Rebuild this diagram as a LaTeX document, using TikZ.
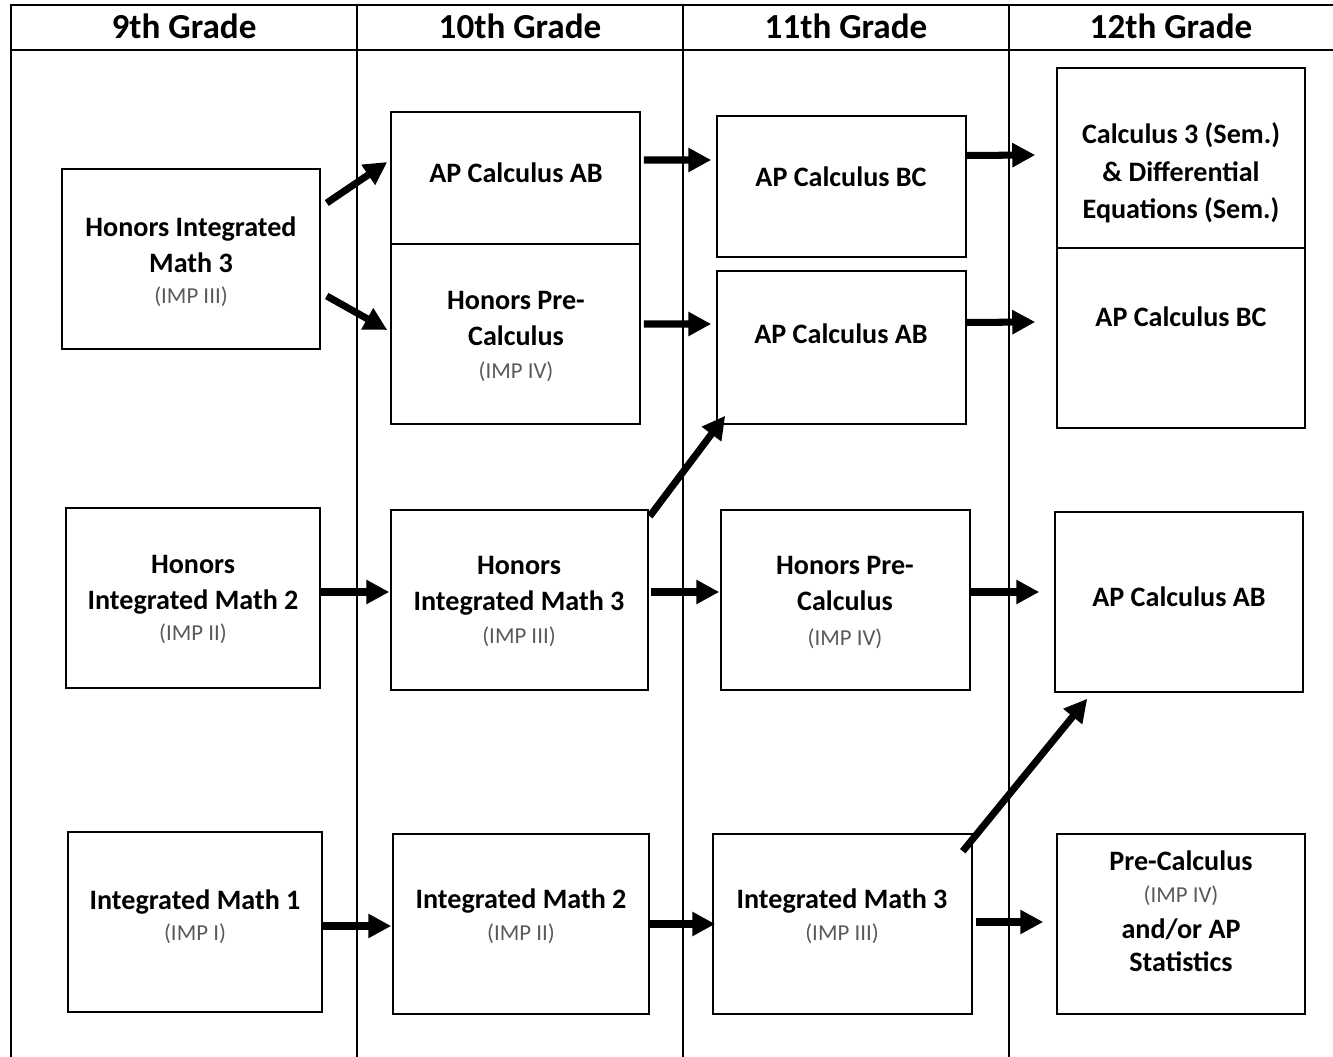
\documentclass[tikz,border=0pt]{standalone}
\usepackage{fontspec}
\setmainfont{Carlito}
\usetikzlibrary{arrows.meta,calc,fit}
\definecolor{impgray}{RGB}{89,89,89}
\newcommand{\imp}[1]{{\fontsize{13}{15.6}\selectfont\mdseries\color{impgray}#1}}

\begin{document}
\begin{tikzpicture}
	[x=0.02cm,y=-0.02cm,
	 box/.style={draw,line width=0.85pt,inner sep=0pt},
	 txt/.style={align=center,anchor=base,font=\fontsize{16}{20.4}\selectfont\bfseries},
	 grade/.style={anchor=base,font=\fontsize{20}{24}\selectfont\bfseries},
	 flow/.style={line width=4pt,-{Triangle[length=0.46cm,width=0.46cm]}},
	 rule/.style={line width=0.85pt}]
	\useasboundingbox (0,0) rectangle (1333,1057);
	% table
	\draw[rule] (11,1057) -- (11,5) -- (1333,5);
	\draw[rule] (11,50) -- (1333,50);
	\foreach \x in {357,683,1009}
		\draw[rule] (\x,5) -- (\x,1057);
	\node[grade,name=g9] at (184,39) {9th Grade};
	\node[grade,name=g10] at (520,39) {10th Grade};
	\node[grade,name=g11] at (846,39) {11th Grade};
	\node[grade,name=g12] at (1171,39) {12th Grade};
	% boxes
	\node[box,name=him3a,fit={(62,169) (320,349)}] {};
	\node[box,name=apab10,fit={(391,112) (640,244)}] {};
	\node[box,name=hpc10,fit={(391,244) (640,424)}] {};
	\node[box,name=apbc11,fit={(717,116) (966,257)}] {};
	\node[box,name=apab11,fit={(717,271) (966,424)}] {};
	\node[box,name=calc12,fit={(1057,68) (1305,248)}] {};
	\node[box,name=apbc12,fit={(1057,248) (1305,428)}] {};
	\node[box,name=him2,fit={(66,508) (320,688)}] {};
	\node[box,name=him3b,fit={(391,510) (648,690)}] {};
	\node[box,name=hpc11,fit={(721,510) (970,690)}] {};
	\node[box,name=apab12,fit={(1055,512) (1303,692)}] {};
	\node[box,name=im1,fit={(68,832) (322,1012)}] {};
	\node[box,name=im2,fit={(393,834) (649,1014)}] {};
	\node[box,name=im3,fit={(713,834) (972,1014)}] {};
	\node[box,name=pc12,fit={(1057,834) (1305,1014)}] {};
	% texts (base = last line)
	\node[txt,name=him3a-t] at (191,304) {Honors Integrated\\Math 3\\[-2.3pt]\imp{(IMP III)}};
	\node[txt,name=apab10-t] at (516,183) {AP Calculus AB};
	\node[txt,name=hpc10-t] at (516,379) {Honors Pre-\\Calculus\\[-1.5pt]\imp{(IMP IV)}};
	\node[txt,name=apbc11-t] at (841,187) {AP Calculus BC};
	\node[txt,name=apab11-t] at (841,344) {AP Calculus AB};
	\node[txt,name=calc12-t] at (1181,219) {Calculus 3 (Sem.)\\[1pt]\& Differential\\[1pt]Equations (Sem.)};
	\node[txt,name=apbc12-t] at (1181,327) {AP Calculus BC};
	\node[txt,name=him2-t] at (193,641) {Honors\\Integrated Math 2\\[-2.3pt]\imp{(IMP II)}};
	\node[txt,name=him3b-t] at (519,643) {Honors\\Integrated Math 3\\[-1.8pt]\imp{(IMP III)}};
	\node[txt,name=hpc11-t] at (845,645) {Honors Pre-\\Calculus\\[-0.6pt]\imp{(IMP IV)}};
	\node[txt,name=apab12-t] at (1179,606) {AP Calculus AB};
	\node[txt,name=im1-t] at (195,940) {Integrated Math 1\\[-2.8pt]\imp{(IMP I)}};
	\node[txt,name=im2-t] at (521,940) {Integrated Math 2\\[-2.3pt]\imp{(IMP II)}};
	\node[txt,name=im3-t] at (842,940) {Integrated Math 3\\[-2.3pt]\imp{(IMP III)}};
	\node[txt,name=pc12-t] at (1181,971) {Pre-Calculus\\[-2.3pt]\imp{(IMP IV)}\\and/or AP\\[-1.7pt]Statistics};
	% arrows
	\draw[flow] ($(him3a.east)+(6,-56)$) -- ($(apab10.west)+(-3,-16)$);
	\draw[flow] ($(him3a.east)+(6,37)$) -- ($(hpc10.west)+(-3,-4)$);
	\draw[flow] ($(apab10.east)+(3,-18)$) -- ($(apbc11.west)+(-5,-26.5)$);
	\draw[flow] ($(hpc10.east)+(3,-10)$) -- ($(apab11.west)+(-5,-23.5)$);
	\draw[flow] ($(apbc11.east)+(0,-31)$) -- ($(calc12.west)+(-21,-3)$);
	\draw[flow] ($(apab11.east)+(0,-25)$) -- ($(apbc12.west)+(-21,-16)$);
	\draw[flow] ($(him2.east)+(0,-6)$) -- ($(him3b.west)+(-1,-8)$);
	\draw[flow] ($(him3b.north east)+(1,7)$) -- ($(apab11.south west)+(9,-9)$);
	\draw[flow] ($(him3b.east)+(2,-8)$) -- ($(hpc11.west)+(-1,-8)$);
	\draw[flow] ($(hpc11.east)+(0,-8)$) -- ($(apab12.west)+(-15,-10)$);
	\draw[flow] ($(im1.east)+(0,4)$) -- ($(im2.west)+(-1,2)$);
	\draw[flow] ($(im2.east)+(-1,0)$) -- ($(im3.west)+(3,0)$);
	\draw[flow] ($(im3.north east)+(-10,18)$) -- ($(apab12.south west)+(33,6)$);
	\draw[flow] ($(im3.east)+(3,-2)$) -- ($(pc12.west)+(-13,-2)$);
\end{tikzpicture}
\end{document}
